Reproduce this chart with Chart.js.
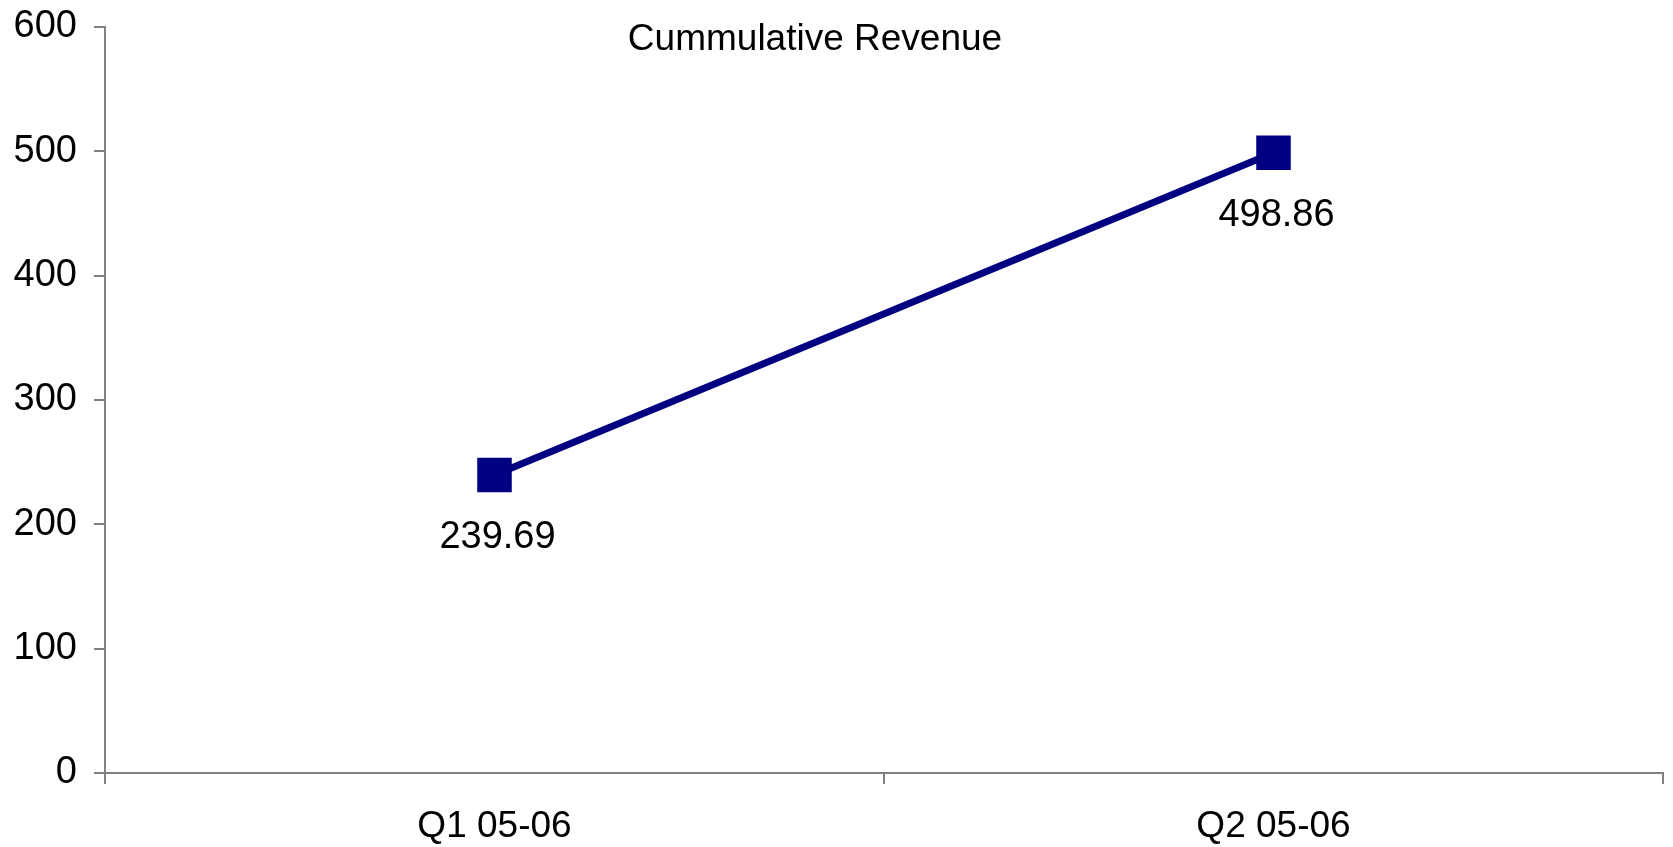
<!DOCTYPE html>
<html>
<head>
<meta charset="utf-8">
<title>Cummulative Revenue</title>
<script src="https://cdn.jsdelivr.net/npm/chart.js@4/dist/chart.umd.min.js"></script>
<style>
  html, body { margin: 0; padding: 0; background: #fff; }
  canvas { display: block; }
</style>
</head>
<body>
<canvas id="revenue" width="1673" height="847"></canvas>
<script>
const quarters = ["Q1 05-06", "Q2 05-06"];
const revenue = [239.69, 498.86];
const yTicks = [0, 100, 200, 300, 400, 500, 600];

const titleText = "Cummulative Revenue";
const fontFamily = "'Liberation Sans', Arial, sans-serif";
const axisGrey = "#808080";
const navy = "#000080";

// title sits off-centre over the plot, value labels hang under each marker
const labelsPlugin = {
  id: "labelsPlugin",
  afterDatasetsDraw(chart) {
    const ctx = chart.ctx;
    ctx.save();
    ctx.fillStyle = "#000";
    ctx.textAlign = "center";
    ctx.textBaseline = "middle";

    ctx.font = "37px " + fontFamily;
    ctx.fillText(titleText, 815, 40);

    ctx.font = "38px " + fontFamily;
    const meta = chart.getDatasetMeta(0);
    meta.data.forEach((pt, i) => {
      ctx.fillText(revenue[i].toFixed(2), pt.x + 3, pt.y + 63);
    });
    ctx.restore();
  }
};

new Chart(document.getElementById("revenue").getContext("2d"), {
  type: "line",
  data: {
    labels: quarters,
    datasets: [
      {
        data: revenue,
        borderColor: navy,
        backgroundColor: navy,
        borderWidth: 7,
        pointStyle: "rect",
        pointRadius: 23,
        pointHoverRadius: 23,
        pointBorderWidth: 2,
        pointBorderColor: navy,
        pointBackgroundColor: navy,
        tension: 0,
        fill: false,
      },
    ],
  },
  options: {
    responsive: false,
    animation: false,
    layout: { autoPadding: false, padding: { top: 27, right: 10, left: 0, bottom: 0 } },
    plugins: {
      legend: { display: false },
      title: { display: false },
      tooltip: { enabled: false },
    },
    scales: {
      x: {
        offset: true,
        afterFit(scale) { scale.height = 74; },
        grid: {
          offset: true,
          drawOnChartArea: false,
          drawTicks: true,
          tickLength: 11,
          color: axisGrey,
          lineWidth: 2,
        },
        border: { color: axisGrey, width: 2 },
        ticks: {
          color: "#000",
          padding: 21,
          maxRotation: 0,
          font: { family: fontFamily, size: 37 },
        },
      },
      y: {
        min: 0,
        max: 600,
        afterFit(scale) {
          scale.width = 105;
          scale.paddingTop = 0;
          scale.paddingBottom = 0;
        },
        afterBuildTicks(scale) {
          scale.ticks = yTicks.map((v) => ({ value: v }));
        },
        grid: {
          drawOnChartArea: false,
          drawTicks: true,
          tickLength: 11,
          color: axisGrey,
          lineWidth: 2,
        },
        border: { color: axisGrey, width: 2 },
        ticks: {
          color: "#000",
          padding: 17,
          font: { family: fontFamily, size: 38 },
        },
      },
    },
  },
  plugins: [labelsPlugin],
});
</script>
</body>
</html>
